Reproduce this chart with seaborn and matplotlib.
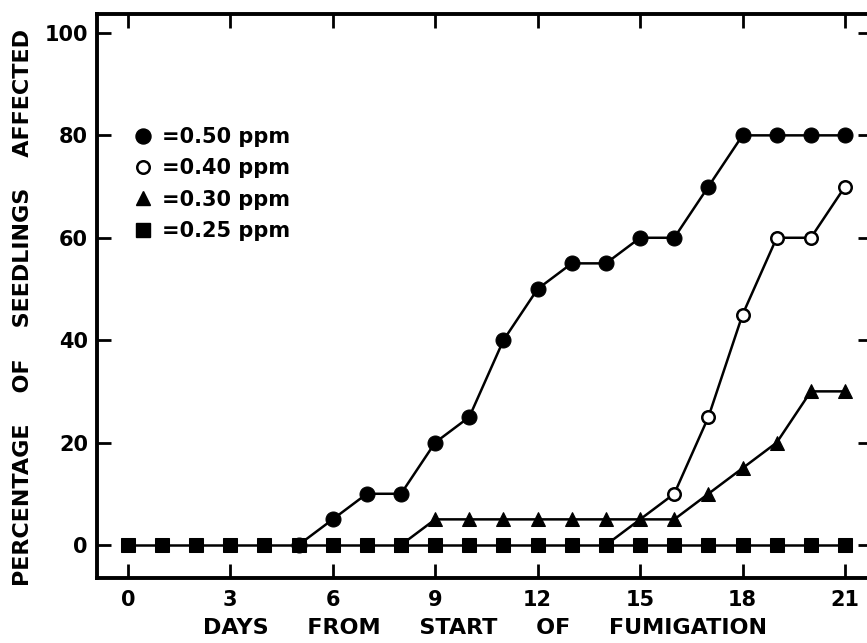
import matplotlib
matplotlib.use("Agg")
import matplotlib.pyplot as plt
from matplotlib.lines import Line2D
import seaborn as sns

# Dias de cada serie (percentagem de plantulas afetadas)
dias_050 = [5, 6, 7, 8, 9, 10, 11, 12, 13, 14, 15, 16, 17, 18, 19, 20, 21]
pct_050 = [0, 5, 10, 10, 20, 25, 40, 50, 55, 55, 60, 60, 70, 80, 80, 80, 80]

dias_040 = [14, 16, 17, 18, 19, 20, 21]
pct_040 = [0, 10, 25, 45, 60, 60, 70]

dias_030 = [8, 9, 10, 11, 12, 13, 14, 15, 16, 17, 18, 19, 20, 21]
pct_030 = [0, 5, 5, 5, 5, 5, 5, 5, 5, 10, 15, 20, 30, 30]

dias_025 = list(range(0, 22))
pct_025 = [0] * 22

rotulos = ["=0.50 ppm", "=0.40 ppm", "=0.30 ppm", "=0.25 ppm"]
xticks = [0, 3, 6, 9, 12, 15, 18, 21]
yticks = [0, 20, 40, 60, 80, 100]

sns.set_style("ticks")
plt.rcParams['font.family'] = ['DejaVu Sans']
plt.rcParams['font.weight'] = 'bold'
plt.rcParams['text.color'] = 'black'
plt.rcParams['axes.labelcolor'] = 'black'
plt.rcParams['xtick.color'] = 'black'
plt.rcParams['ytick.color'] = 'black'
plt.rcParams['axes.edgecolor'] = 'black'

fig = plt.figure(figsize=(8.67, 6.43), dpi=100)
ax = fig.add_axes([0.1119, 0.1011, 0.8939, 0.8771])

lw = 1.8
# Series (quadrados por cima)
sns.lineplot(x=dias_050, y=pct_050, ax=ax, color='black', linewidth=lw,
             marker='o', markersize=10.8, markerfacecolor='black',
             markeredgecolor='black', zorder=3)
sns.lineplot(x=dias_040, y=pct_040, ax=ax, color='black', linewidth=lw,
             marker='o', markersize=9, markerfacecolor='white',
             markeredgecolor='black', markeredgewidth=1.8, zorder=3)
sns.lineplot(x=dias_030, y=pct_030, ax=ax, color='black', linewidth=lw,
             marker='^', markersize=9.5, markerfacecolor='black',
             markeredgecolor='black', zorder=3)
sns.lineplot(x=dias_025, y=pct_025, ax=ax, color='black', linewidth=lw,
             marker='s', markersize=10.5, markerfacecolor='black',
             markeredgecolor='black', zorder=4)

ax.set_xlim(-0.9, 21.79)
ax.set_ylim(-6.45, 103.7)
ax.set_xticks(xticks)
ax.set_yticks(yticks)

for s in ax.spines.values():
    s.set_linewidth(2.8)
    s.set_color('black')
    s.set_visible(True)

ax.tick_params(axis='both', direction='in', length=10, width=2,
               top=True, right=True, labelsize=15, colors='black')
ax.tick_params(axis='y', pad=6.5)
ax.tick_params(axis='x', pad=8.5)

ax.set_xlabel("DAYS     FROM     START     OF     FUMIGATION", fontsize=16,
              fontweight='bold', va='center')
ax.set_ylabel("PERCENTAGE    OF    SEEDLINGS    AFFECTED", fontsize=16,
              fontweight='bold', va='center')
ax.xaxis.set_label_coords(0.5, -0.089)
ax.yaxis.set_label_coords(-0.0955, 0.48)

# Legenda
handles = [
    Line2D([], [], linestyle='none', marker='o', markersize=10.8,
           markerfacecolor='black', markeredgecolor='black'),
    Line2D([], [], linestyle='none', marker='o', markersize=9,
           markerfacecolor='white', markeredgecolor='black', markeredgewidth=1.8),
    Line2D([], [], linestyle='none', marker='^', markersize=9.5,
           markerfacecolor='black', markeredgecolor='black'),
    Line2D([], [], linestyle='none', marker='s', markersize=10.5,
           markerfacecolor='black', markeredgecolor='black'),
]
ax.legend(handles, rotulos, loc='upper left', bbox_to_anchor=(0.049, 0.8),
          frameon=False, handlelength=0.8, handletextpad=0.5,
          labelspacing=0.55, borderpad=0, borderaxespad=0,
          prop={'size': 15, 'weight': 'bold'})

fig.savefig("out.png", dpi=100)
